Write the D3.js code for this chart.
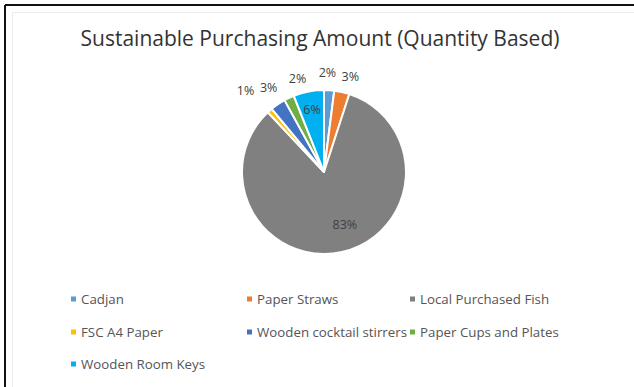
<!DOCTYPE html>
<html>
<head>
<meta charset="utf-8">
<script src="https://cdn.jsdelivr.net/npm/d3@7"></script>
<style>
  html, body { margin: 0; padding: 0; background: #fff; }
  svg { display: block; }
  text { font-family: "Open Sans", "Noto Sans", sans-serif; }
</style>
</head>
<body>
<svg id="chart" width="634" height="387"></svg>
<script>
// Sustainable purchasing share by item (quantity based, %)
const categories = [
  "Cadjan", "Paper Straws", "Local Purchased Fish", "FSC A4 Paper",
  "Wooden cocktail stirrers", "Paper Cups and Plates", "Wooden Room Keys"
];
const shares = [2, 3, 83, 1, 3, 2, 6];
const colors = ["#5B9BD5", "#ED7D31", "#808080", "#FFC000", "#4472C4", "#70AD47", "#00B0F0"];

const W = 634, H = 387;
const svg = d3.select("#chart");

// Frame
svg.append("rect").attr("x", 12.5).attr("y", 12.5).attr("width", 640).attr("height", 400)
  .attr("fill", "none").attr("stroke", "#ececec").attr("stroke-width", 1);
svg.append("line").attr("x1", 5).attr("y1", 5).attr("x2", W).attr("y2", 5)
  .attr("stroke", "#111").attr("stroke-width", 2);
svg.append("line").attr("x1", 5).attr("y1", 5).attr("x2", 5).attr("y2", H)
  .attr("stroke", "#111").attr("stroke-width", 2);

// Title
svg.append("text").attr("x", 320).attr("y", 46).attr("text-anchor", "middle")
  .attr("font-size", 21).attr("fill", "#333")
  .text("Sustainable Purchasing Amount (Quantity Based)");

// Pie
const cx = 324, cy = 172, R = 82;
const data = categories.map((c, i) => ({ name: c, value: shares[i], color: colors[i] }));
const pie = d3.pie().value(d => d.value).sort(null);
const arcs = pie(data);
const arc = d3.arc().innerRadius(0).outerRadius(R);

const g = svg.append("g").attr("transform", `translate(${cx},${cy})`);
g.selectAll("path").data(arcs).join("path")
  .attr("d", arc)
  .attr("fill", d => d.data.color)
  .attr("stroke", "#fff").attr("stroke-width", 2).attr("stroke-linejoin", "round");

// Data labels: small slices outside, large ones inside
const outerLabel = d3.arc().innerRadius(R + 20).outerRadius(R + 20);
const innerLabel = d3.arc().innerRadius(R * 0.78).outerRadius(R * 0.78);
const largeLabel = d3.arc().innerRadius(R * 0.66).outerRadius(R * 0.66);
const labelNudge = {
  "Cadjan": [-3, 2],
  "Paper Straws": [4, 4],
  "FSC A4 Paper": [-11, -5],
  "Wooden cocktail stirrers": [2, 0],
  "Paper Cups and Plates": [17, -1],
  "Local Purchased Fish": [9, 0]
};
g.selectAll("text.lbl").data(arcs).join("text")
  .attr("class", "lbl")
  .attr("transform", d => {
    let p;
    if (d.data.value >= 50) p = largeLabel.centroid(d);
    else if (d.data.value >= 5) p = innerLabel.centroid(d);
    else p = outerLabel.centroid(d);
    const n = labelNudge[d.data.name] || [0, 0];
    return `translate(${p[0] + n[0]},${p[1] + n[1]})`;
  })
  .attr("text-anchor", "middle").attr("dy", "0.35em")
  .attr("font-size", 12.5).attr("fill", "#404040")
  .text(d => d.data.value + "%");

// Legend
const colX = [70, 246, 409];
const rowY = [299, 332, 364];
const leg = svg.append("g");
data.forEach((d, i) => {
  const x = colX[i % 3], y = rowY[Math.floor(i / 3)];
  leg.append("rect").attr("x", x + 1).attr("y", y - 2.5).attr("width", 5).attr("height", 5)
    .attr("fill", d.color);
  leg.append("text").attr("x", x + 11).attr("y", y).attr("dy", "0.35em")
    .attr("font-size", 13.3).attr("fill", "#555").text(d.name);
});
</script>
</body>
</html>
